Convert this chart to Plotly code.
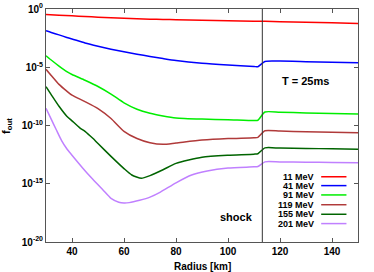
import plotly.graph_objects as go

# ---------------- data ----------------
energies_MeV = [11, 41, 91, 119, 155, 201]
colors = ["#ff0000", "#0000ff", "#00ee00", "#b03a3a", "#006400", "#c080ff"]

radius_11 = [30, 35, 40, 45, 50, 55, 60, 65, 70, 75, 80, 90, 100, 110, 111.5, 114.2, 120, 130, 140, 150]
logf_11 = [-0.47, -0.53, -0.59, -0.65, -0.70, -0.75, -0.80, -0.84, -0.87, -0.90, -0.92, -0.96, -1.00,
           -1.05, -1.055, -1.06, -1.09, -1.14, -1.19, -1.24]

radius_41 = [30, 32, 35, 38, 40, 45, 50, 55, 60, 65, 70, 75, 80, 90, 100, 110, 111.5, 114.2, 120, 130, 140, 150]
logf_41 = [-1.87, -2.02, -2.22, -2.44, -2.57, -2.92, -3.20, -3.45, -3.67, -3.88, -4.07, -4.25, -4.42,
           -4.66, -4.81, -4.93, -4.96, -4.50, -4.47, -4.52, -4.57, -4.62]

radius_91 = [30, 32, 35, 38, 40, 45, 50, 55, 60, 65, 70, 75, 80, 90, 100, 110, 111.5, 114.2, 120, 130, 140, 150]
logf_91 = [-4.01, -4.38, -4.90, -5.38, -5.62, -6.12, -6.65, -7.30, -8.05, -8.60, -8.95, -9.18, -9.35,
           -9.45, -9.50, -9.57, -9.55, -8.84, -8.86, -8.92, -8.97, -9.01]

radius_119 = [30, 32, 35, 38, 40, 45, 50, 55, 60, 65, 70, 75, 80, 90, 100, 110, 111.5, 114.2, 120, 130, 140, 150]
logf_119 = [-5.17, -5.70, -6.47, -7.05, -7.40, -7.95, -8.55, -9.40, -10.50, -11.12, -11.48, -11.62,
            -11.50, -11.25, -11.12, -11.05, -11.02, -10.45, -10.48, -10.53, -10.58, -10.62]

radius_155 = [30, 32, 35, 38, 40, 43, 45, 48, 50, 55, 60, 63, 66.7, 70, 75, 80, 90, 100, 110, 111.5,
              114.2, 120, 130, 140, 150]
logf_155 = [-6.67, -7.35, -8.35, -9.20, -9.60, -10.20, -10.50, -11.10, -11.55, -12.65, -13.70, -14.25,
            -14.53, -14.30, -13.80, -13.25, -12.72, -12.55, -12.46, -12.42, -11.92, -11.94, -11.97,
            -12.00, -12.03]

radius_201 = [30, 32, 34, 36, 38, 40, 44, 48, 52, 55, 58, 60, 62, 66, 70, 74, 80, 86, 92, 100, 110,
              111.5, 114.2, 120, 130, 140, 150]
logf_201 = [-8.52, -9.45, -10.39, -11.30, -12.00, -12.55, -13.62, -14.62, -15.55, -16.25, -16.58,
            -16.65, -16.62, -16.42, -16.15, -15.72, -14.92, -14.25, -13.90, -13.65, -13.55, -13.52,
            -13.12, -13.13, -13.15, -13.17, -13.19]

shock_radius_km = 113.2
time_label = "T = 25ms"

x_ticks = [40, 60, 80, 100, 120, 140]
y_tick_exponents = [0, -5, -10, -15, -20]

series = [
    (radius_11, logf_11),
    (radius_41, logf_41),
    (radius_91, logf_91),
    (radius_119, logf_119),
    (radius_155, logf_155),
    (radius_201, logf_201),
]

# ---------------- figure ----------------
FONT = "Liberation Sans, Arial, Helvetica, sans-serif"
fig = go.Figure()
for (r, lf), e, c in zip(series, energies_MeV, colors):
    fig.add_trace(go.Scatter(
        x=r, y=[10 ** v for v in lf], mode="lines",
        line=dict(color=c, width=1.5, shape="spline", smoothing=0.6),
        name=f"{e} MeV", showlegend=False, hoverinfo="skip"))

axis_common = dict(showline=True, linecolor="#555555", linewidth=1, mirror="allticks",
                   ticks="inside", ticklen=4, tickcolor="#555555", showgrid=False,
                   zeroline=False, automargin=False,
                   tickfont=dict(family=FONT, size=10, color="black", weight="bold"))

fig.update_layout(
    width=374, height=272,
    margin=dict(l=46, r=16, t=9, b=30),
    paper_bgcolor="white", plot_bgcolor="white",
    font=dict(family=FONT, size=10, color="black"),
    xaxis=dict(range=[30, 150], tickvals=x_ticks, ticktext=[str(v) for v in x_ticks],
               **axis_common),
    yaxis=dict(type="log", range=[-20, 0],
               tickvals=[10.0 ** v for v in y_tick_exponents],
               ticktext=[f"10<sup>{v}</sup>" for v in y_tick_exponents],
               **axis_common),
    showlegend=False,
)

# shock line
fig.add_shape(type="line", xref="x", yref="paper", x0=shock_radius_km, x1=shock_radius_km,
              y0=0, y1=1, line=dict(color="#333333", width=1))

# axis titles
fig.add_annotation(text="Radius [km]", xref="paper", yref="paper", x=0.5, y=-0.106,
                   showarrow=False, yanchor="middle",
                   font=dict(family=FONT, size=10, color="black", weight="bold"))
fig.add_annotation(text="f<sub>out</sub>", xref="paper", yref="paper", x=-0.127, y=0.50,
                   showarrow=False, textangle=-90, xanchor="center", yanchor="middle",
                   font=dict(family=FONT, size=11, color="black", weight="bold"))

# text labels
fig.add_annotation(text=time_label, xref="x", yref="y", x=129.7, y=-6.18, showarrow=False,
                   font=dict(family=FONT, size=11, color="black", weight="bold"))
fig.add_annotation(text="shock", xref="x", yref="y", x=110.4, y=-17.85, showarrow=False,
                   xanchor="right", font=dict(family=FONT, size=11, color="black", weight="bold"))

# manual legend (text on the left, line sample on the right)
legend_rows_y = [0.280, 0.242, 0.202, 0.160, 0.119, 0.079]
for e, c, yy in zip(energies_MeV, colors, legend_rows_y):
    fig.add_annotation(text=f"{e} MeV", xref="paper", yref="paper", x=0.866, y=yy,
                       xanchor="right", yanchor="middle", showarrow=False,
                       font=dict(family=FONT, size=9, color="black", weight="bold"))
    fig.add_shape(type="line", xref="paper", yref="paper", x0=0.882, x1=0.963, y0=yy, y1=yy,
                  line=dict(color=c, width=1.5))

fig.write_html(
    "out.html",
    config={"displayModeBar": False},
    post_script="document.body.style.margin='0px';document.body.style.overflow='hidden';",
)
